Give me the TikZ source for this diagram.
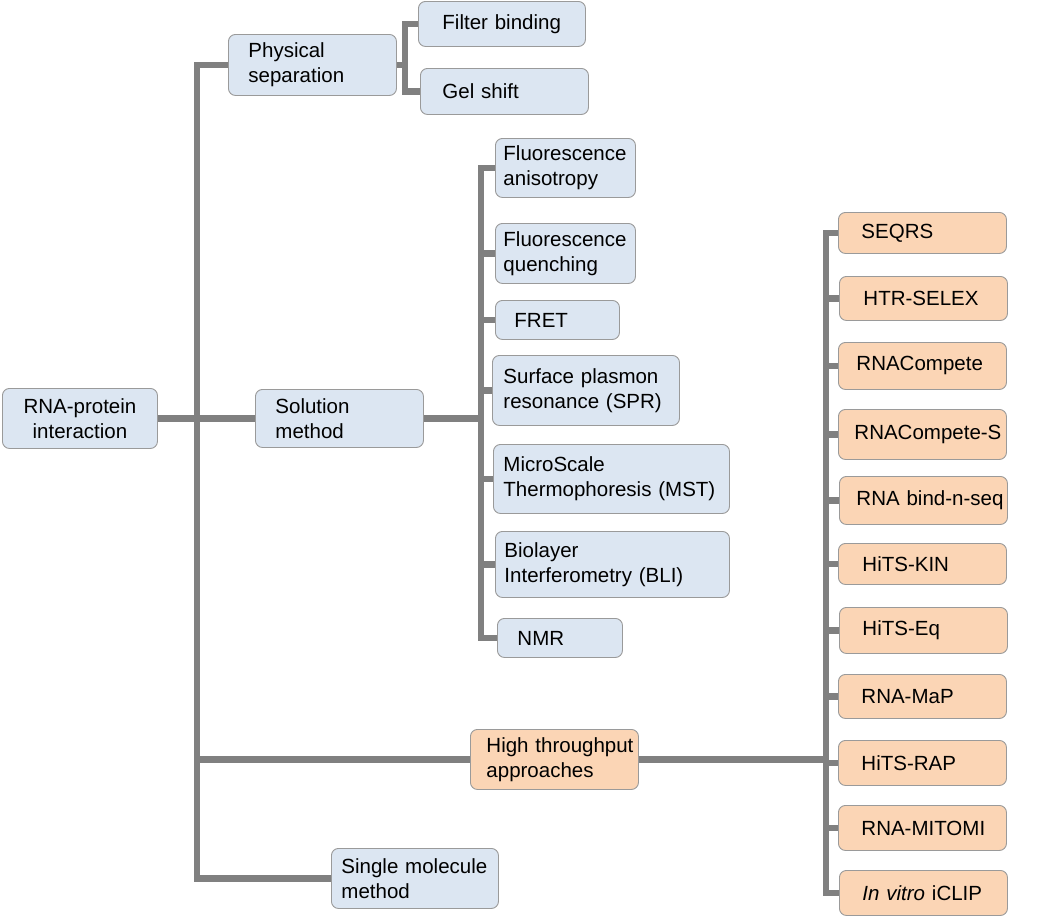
\documentclass[tikz,border=0pt]{standalone}
\usepackage{fontspec}
\setmainfont{Liberation Sans}
\definecolor{cajaazul}{HTML}{DCE6F2}
\definecolor{cajanaranja}{HTML}{FBD5B5}
\definecolor{bordegris}{HTML}{9A9A9A}
\definecolor{lineagris}{HTML}{808080}
\usetikzlibrary{positioning}

\begin{document}
\begin{tikzpicture}[
  x=1pt, y=-1pt,
  caja/.style={
    rectangle, rounded corners=7pt,
    draw=bordegris, line width=0.9pt,
    anchor=north west, align=left,
    font=\fontsize{20.5}{25}\selectfont,
    inner ysep=0pt
  },
  azul/.style={caja, fill=cajaazul},
  naranja/.style={caja, fill=cajanaranja,
    text width=122pt, inner xsep=23pt},
  conn/.style={draw=lineagris, line width=6.5pt}
]
  \useasboundingbox (0,0) rectangle (1039,919);

  % raiz y ramas principales
  \node[azul, align=center, inner xsep=0pt, minimum width=155pt,
        minimum height=60pt] (rna) at (2,388) {RNA-protein\\interaction};
  \node[azul, text width=128pt, inner xsep=20pt, minimum height=61pt]
    (phys) at (228,34) {Physical\\separation};
  \node[azul, text width=128pt, inner xsep=20pt, minimum height=58pt]
    (sol) at (255,389) {Solution\\method};
  \node[caja, fill=cajanaranja, text width=136pt, inner xsep=16pt,
        minimum height=60pt] (ht) at (470,729)
    {\mbox{High throughput}\\approaches};
  \node[azul, text width=147pt, inner xsep=10pt, minimum height=60pt]
    (single) at (331,848) {\mbox{Single molecule}\\method};

  % separacion fisica
  \node[azul, text width=119pt, inner xsep=24pt, minimum height=45pt]
    (filter) at (418,1) {\mbox{Filter binding}};
  \node[azul, text width=124pt, inner xsep=22pt, minimum height=46pt]
    (gel) at (420,68) {Gel shift};

  % metodos en solucion
  \node[azul, text width=124pt, inner xsep=8pt, minimum height=59pt]
    (fa) at (495,138) {Fluorescence\\anisotropy};
  \node[azul, text width=124pt, inner xsep=8pt, minimum height=60pt]
    (fq) at (495,223) {Fluorescence\\quenching};
  \node[azul, text width=86pt, inner xsep=19pt, minimum height=39pt]
    (fret) at (495,300) {FRET};
  \node[azul, text width=165pt, inner xsep=11pt, minimum height=70pt]
    (spr) at (492,355) {Surface plasmon\\\mbox{resonance (SPR)}};
  \node[azul, text width=216pt, inner xsep=10pt, minimum height=69pt]
    (mst) at (493,444) {MicroScale\\\mbox{Thermophoresis (MST)}};
  \node[azul, text width=216pt, inner xsep=9pt, minimum height=66pt]
    (bli) at (495,531) {Biolayer\\\mbox{Interferometry (BLI)}};
  \node[azul, text width=85pt, inner xsep=20pt, minimum height=39pt]
    (nmr) at (497,618) {NMR};

  % alto rendimiento
  \node[naranja, minimum height=41pt] (seqrs) at (838,212) {SEQRS};
  \node[naranja, text width=120pt, inner xsep=24pt, minimum height=44pt]
    (htr) at (839,276) {\mbox{HTR-SELEX}};
  \node[naranja, text width=132pt, inner xsep=18pt, minimum height=47pt]
    (rnac) at (838,342) {RNACompete};
  \node[naranja, text width=136pt, inner xsep=16pt, minimum height=50pt]
    (rnacs) at (838,409) {\mbox{RNACompete-S}};
  \node[naranja, text width=134pt, inner xsep=17pt, minimum height=48pt]
    (bind) at (839,476) {\mbox{RNA bind-n-seq}};
  \node[naranja, text width=120pt, inner xsep=24pt, minimum height=41pt]
    (kin) at (838,543) {\mbox{HiTS-KIN}};
  \node[naranja, minimum height=46pt] (eq) at (839,607) {\mbox{HiTS-Eq}};
  \node[naranja, minimum height=44pt] (map) at (838,674) {\mbox{RNA-MaP}};
  \node[naranja, minimum height=45pt] (rap) at (838,740) {\mbox{HiTS-RAP}};
  \node[naranja, minimum height=45pt] (mitomi) at (838,805)
    {\mbox{RNA-MITOMI}};
  \node[naranja, minimum height=45pt] (iclip) at (839,870)
    {\mbox{\textit{In vitro} iCLIP}};

  % conectores
  \path (rna.east) ++(39,0) coordinate (trunk);
  \path (phys.east) ++(8,0) coordinate (pj);
  \path (sol.east) ++(57,0) coordinate (sj);
  \path (ht.east) ++(187,0) coordinate (hj);

  \draw[conn] (rna.east) -- (sol.west);
  \draw[conn] (phys.west) -| (trunk) |- (single.west);
  \draw[conn] (trunk |- ht.west) -- (ht.west);

  \draw[conn] (phys.east) -- (pj);
  \draw[conn] (filter.west) -| (pj) |- (gel.west);

  \draw[conn] (sol.east) -- (sj);
  \draw[conn] (fa.west) -| (sj) |- (nmr.west);
  \foreach \n in {fq,fret,spr,mst,bli}
    \draw[conn] (sj |- \n.west) -- (\n.west);

  \draw[conn] (ht.east) -- (hj);
  \draw[conn] (seqrs.west) -| (hj) |- (iclip.west);
  \foreach \n in {htr,rnac,rnacs,bind,kin,eq,map,rap,mitomi}
    \draw[conn] (hj |- \n.west) -- (\n.west);
\end{tikzpicture}
\end{document}
